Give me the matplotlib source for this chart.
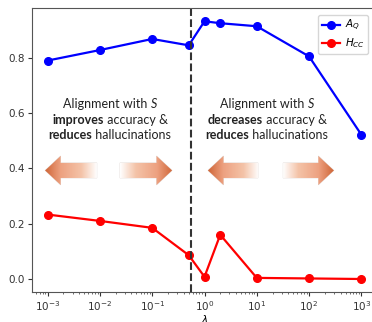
import numpy as np
import matplotlib.pyplot as plt
from matplotlib.colors import LinearSegmentedColormap
from matplotlib.patches import Polygon
from matplotlib.offsetbox import TextArea, HPacker, VPacker, AnnotationBbox

lambdas = [1e-3, 1e-2, 1e-1, 0.5, 1, 2, 10, 100, 1000]
acc_q = [0.79, 0.828, 0.868, 0.845, 0.932, 0.925, 0.914, 0.805, 0.522]
hall_cc = [0.233, 0.21, 0.185, 0.086, 0.008, 0.16, 0.004, 0.002, 0.0]
split_lambda = 0.55

# (text, weight, style) pieces per line
left_note = [
    [("Alignment with ", 'normal', 'normal'), ("S", 'normal', 'italic')],
    [("improves", 'bold', 'normal'), (" accuracy &", 'normal', 'normal')],
    [("reduces", 'bold', 'normal'), (" hallucinations", 'normal', 'normal')],
]
right_note = [
    [("Alignment with ", 'normal', 'normal'), ("S", 'normal', 'italic')],
    [("decreases", 'bold', 'normal'), (" accuracy &", 'normal', 'normal')],
    [("reduces", 'bold', 'normal'), (" hallucinations", 'normal', 'normal')],
]

fig = plt.figure(figsize=(3.72, 3.22), dpi=100)
ax = fig.add_axes([32 / 372, 30 / 322, 345 / 372, 284 / 322])

ax.plot(lambdas, acc_q, '-o', color='blue', lw=1.6, ms=5.5, label='$A_Q$')
ax.plot(lambdas, hall_cc, '-o', color='red', lw=1.6, ms=5.5, label='$H_{CC}$')
ax.axvline(split_lambda, color='#333333', ls='--', lw=1.5)

ax.set_xscale('log')
ax.set_xlim(10 ** -3.3, 10 ** 3.3)
ax.set_ylim(-0.047, 0.98)
ax.set_yticks([0.0, 0.2, 0.4, 0.6, 0.8])
ax.set_xlabel('$\\lambda$', fontsize=7.5, labelpad=0)
ax.tick_params(labelsize=7.5, colors='#333333', length=3, pad=2)
ax.tick_params(which='minor', length=1.5, colors='#555555')
for s in ax.spines.values():
    s.set_color('#555555')
ax.legend(loc='upper right', fontsize=7.5, handlelength=1.7, borderpad=0.35,
          labelspacing=0.3, handletextpad=0.5, bbox_to_anchor=(0.99, 0.995))


def note(lines, x, y):
    rows = []
    for line in lines:
        parts = [TextArea(t, textprops=dict(family='Lato', fontsize=9, weight=w,
                                             style=st, color='#222222'))
                 for t, w, st in line]
        rows.append(HPacker(children=parts, pad=0, sep=0, align='baseline'))
    box = VPacker(children=rows, pad=0, sep=2.5, align='center')
    ab = AnnotationBbox(box, (x, y), xycoords='axes fraction', frameon=False,
                        box_alignment=(0.5, 0.5))
    ax.add_artist(ab)


note(left_note, 0.226, 0.607)
note(right_note, 0.681, 0.607)

# gradient arrows on an overlay axes in axes-fraction coords
ov = fig.add_axes(ax.get_position(), zorder=3)
ov.axis('off')

cmap = LinearSegmentedColormap.from_list(
    'arr', [(0, '#ffffff'), (0.3, '#f4c3a8'), (0.7, '#eda180'), (1, '#cf6537')])


def arrow(x0, x1, pointing_left):
    yc, h, sh, head = 0.428, 0.102, 0.053, 0.045
    if pointing_left:
        tip, base, tail = x0, x0 + head, x1
    else:
        tip, base, tail = x1, x1 - head, x0
    pts = [(tip, yc), (base, yc + h / 2), (base, yc + sh / 2), (tail, yc + sh / 2),
           (tail, yc - sh / 2), (base, yc - sh / 2), (base, yc - h / 2)]
    poly = Polygon(pts, closed=True, fc='none', ec='#e0d8d4', lw=0.5)
    ov.add_patch(poly)
    grad = np.linspace(0, 1, 256).reshape(1, -1)
    if pointing_left:
        grad = grad[:, ::-1]
    im = ov.imshow(grad, cmap=cmap, aspect='auto',
                   extent=(x0, x1, yc - h / 2, yc + h / 2), zorder=2)
    im.set_clip_path(poly)


arrow(0.038, 0.188, True)
arrow(0.255, 0.406, False)
arrow(0.510, 0.655, True)
arrow(0.728, 0.875, False)
ov.set_xlim(0, 1)
ov.set_ylim(0, 1)

fig.savefig('out.png', dpi=100)
